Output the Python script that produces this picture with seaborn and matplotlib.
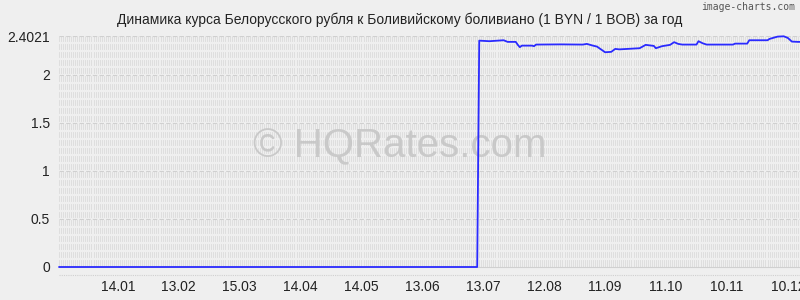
import numpy as np
import pandas as pd
import matplotlib
matplotlib.use("Agg")
import matplotlib.pyplot as plt
import seaborn as sns

title = "Динамика курса Белорусского рубля к Боливийскому боливиано (1 BYN / 1 BOB) за год"
watermark = "© HQRates.com"
credit = "image-charts.com"

dates = [
    "2022-12-16", "2023-07-10", "2023-07-11", "2023-07-16", "2023-07-23", "2023-07-25",
    "2023-07-29", "2023-07-30", "2023-07-31", "2023-08-01", "2023-08-06", "2023-08-07",
    "2023-08-08", "2023-08-20", "2023-08-31", "2023-09-02", "2023-09-05", "2023-09-07",
    "2023-09-11", "2023-09-14", "2023-09-16", "2023-09-18", "2023-09-28", "2023-10-01",
    "2023-10-05", "2023-10-06", "2023-10-09", "2023-10-13", "2023-10-15", "2023-10-17",
    "2023-10-19", "2023-10-26", "2023-10-27", "2023-10-29", "2023-10-31", "2023-11-13",
    "2023-11-14", "2023-11-20", "2023-11-21", "2023-11-30", "2023-12-01", "2023-12-05",
    "2023-12-08", "2023-12-10", "2023-12-12", "2023-12-15", "2023-12-16",
]
rates = [
    0.0, 0.0, 2.357, 2.351, 2.361, 2.344,
    2.344, 2.313, 2.289, 2.305, 2.305, 2.299,
    2.316, 2.318, 2.316, 2.323, 2.305, 2.295,
    2.236, 2.240, 2.271, 2.266, 2.278, 2.313,
    2.302, 2.278, 2.299, 2.313, 2.341, 2.323,
    2.316, 2.316, 2.351, 2.330, 2.316, 2.316,
    2.326, 2.326, 2.361, 2.361, 2.375, 2.399,
    2.4021, 2.385, 2.347, 2.344, 2.344,
]

tick_dates = ["2023-01-14", "2023-02-13", "2023-03-15", "2023-04-14", "2023-05-14", "2023-06-13",
              "2023-07-13", "2023-08-12", "2023-09-11", "2023-10-11", "2023-11-10", "2023-12-10"]
tick_labels = ["14.01", "13.02", "15.03", "14.04", "14.05", "13.06",
               "13.07", "12.08", "11.09", "11.10", "10.11", "10.12"]
y_ticks = [0, 0.5, 1, 1.5, 2, 2.4021]
y_tick_labels = ["0", "0.5", "1", "1.5", "2", "2.4021"]

x_start, x_end = "2022-12-16", "2023-12-16"
y_min, y_max = -1 / 12, 2.4021

BG = "#efefef"
GRID = "#dadada"
LINE = "#2a2aff"

sns.set_style("white")
plt.rcParams["font.family"] = ["Liberation Sans", "DejaVu Sans"]

fig = plt.figure(figsize=(8, 3), dpi=100, facecolor=BG)
ax = fig.add_axes([59 / 800, 25 / 300, 1 - 59 / 800, (275 - 36.3) / 300])
ax.set_facecolor(BG)

df = pd.DataFrame({"date": pd.to_datetime(dates), "rate": rates})

# dense background grid
xs, xe = pd.Timestamp(x_start), pd.Timestamp(x_end)
days = pd.date_range(xs, xe, freq="D")
ax.vlines(days, 0, y_max, color=GRID, lw=0.55, zorder=0.2)
levels = np.arange(1, 29) / 12
ax.hlines(levels, xs, xe, color=BG, lw=1.6, zorder=0.4)
ax.hlines([t for t in y_ticks if t > 0], xs, xe, color="#d0d0d0", lw=0.8,
          linestyles=(0, (4, 2)), zorder=0.6)
ax.hlines([0], xs, xe, color="#d0d0d0", lw=0.8, zorder=0.6)
ax.hlines([y_min], xs, xe, color="#d0d0d0", lw=0.8, linestyles=(0, (1, 1)),
          zorder=0.6, clip_on=False)

ax.text(399.5 / 800, 1 - 146 / 300, watermark, transform=fig.transFigure,
        ha="center", va="center", fontsize=29, color="#c4c4c4", alpha=0.85, zorder=1)

sns.lineplot(data=df, x="date", y="rate", ax=ax, color=LINE, lw=1.3, zorder=3)
for ln in ax.lines:
    ln.set_clip_on(False)

ax.set_xlim(xs, xe)
ax.set_ylim(y_min, y_max)
ax.set_xticks(pd.to_datetime(tick_dates))
ax.set_xticklabels(tick_labels)
ax.set_yticks(y_ticks)
ax.set_yticklabels(y_tick_labels)
ax.set_xlabel("")
ax.set_ylabel("")
ax.tick_params(axis="x", length=0, pad=3.6, labelsize=10, labelcolor="#222222")
ax.tick_params(axis="y", length=3, color="#cccccc", pad=3.6, labelsize=10, labelcolor="#222222")
for s in ax.spines.values():
    s.set_visible(False)

fig.text(0.5, 1 - 19.5 / 300, title, ha="center", va="center", fontsize=10, color="#222222")
fig.text(795 / 800, 1 - 7 / 300, credit, ha="right", va="center", fontsize=7,
         family="DejaVu Sans Mono", color="#555555")

fig.savefig("out.png", dpi=100, facecolor=BG)
